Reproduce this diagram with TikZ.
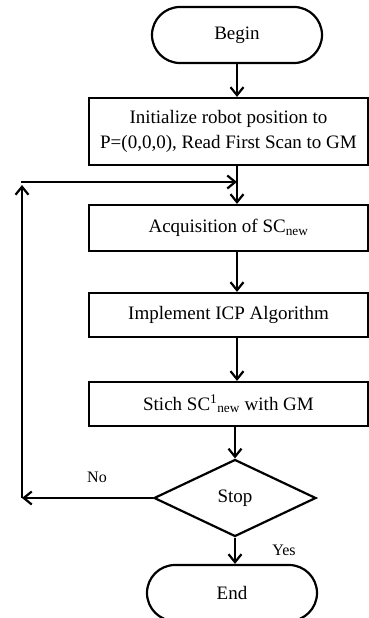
\documentclass[tikz,border=0pt]{standalone}
\usepackage{fontspec}
\setmainfont{Liberation Serif}
\usetikzlibrary{positioning,arrows.meta,shapes.geometric,shapes.misc}

\tikzset{
  flow/.style={line width=2.2pt,-{Straight Barb[length=8pt,width=13pt,line width=2.2pt]}},
  termbox/.style={rounded rectangle,draw,line width=2.2pt,minimum width=170pt,minimum height=56pt,inner sep=0pt},
  procbox/.style={rectangle,draw,line width=2.2pt,minimum width=279pt,inner sep=0pt,align=center},
  testbox/.style={diamond,draw,line width=2.2pt,minimum width=162pt,minimum height=77pt,inner sep=0pt},
  lbl/.style={font=\fontsize{16}{19}\selectfont}
}

\begin{document}
\begin{tikzpicture}[x=1pt,y=-1pt,font=\fontsize{19}{25}\selectfont]
\useasboundingbox[fill=white] (0,0) rectangle (369,618);

% terminals and steps
\node[termbox] (begin) at (237,35) {Begin};
\node[procbox,minimum height=67pt] (init) at (228.5,131.5) {Initialize robot position to\\P=(0,0,0), Read First Scan to GM};
\node[procbox,minimum height=46pt] (acq) at (228.5,228) {Acquisition of SC\textsubscript{new}};
\node[procbox,minimum height=44pt] (icp) at (228.5,315) {Implement ICP Algorithm};
\node[procbox,minimum height=44pt] (stich) at (228.5,404) {Stich SC\textsuperscript{1}\textsubscript{new} with GM};
\node[testbox] (stop) at (235,498) {Stop};
\node[termbox] (end) at (232,593) {End};

% loop corners
\coordinate (loopL) at (22,498);
\coordinate (loopU) at (22,185);
\coordinate (loopT) at (21,182);

% connectors
\draw[flow] (begin.south) -- (begin.south |- init.north);
\draw[flow] (begin.south |- init.south) -- (begin.south |- acq.north);
\draw[flow] (begin.south |- acq.south) -- (begin.south |- icp.north);
\draw[flow] (begin.south |- icp.south) -- (begin.south |- stich.north);
\draw[flow] (stop.north |- stich.south) -- (stop.north);
\draw[flow] (stop.south) -- (stop.south |- end.north);
\draw[flow] (stop.west) -- (loopL);
\draw[flow] (loopL) -- (loopU);
\draw[flow] (loopT) -- (loopT -| begin.south);

% labels
\node[lbl] (no) at (97,477) {No};
\node[lbl] (yes) at (284,550) {Yes};
\end{tikzpicture}
\end{document}
